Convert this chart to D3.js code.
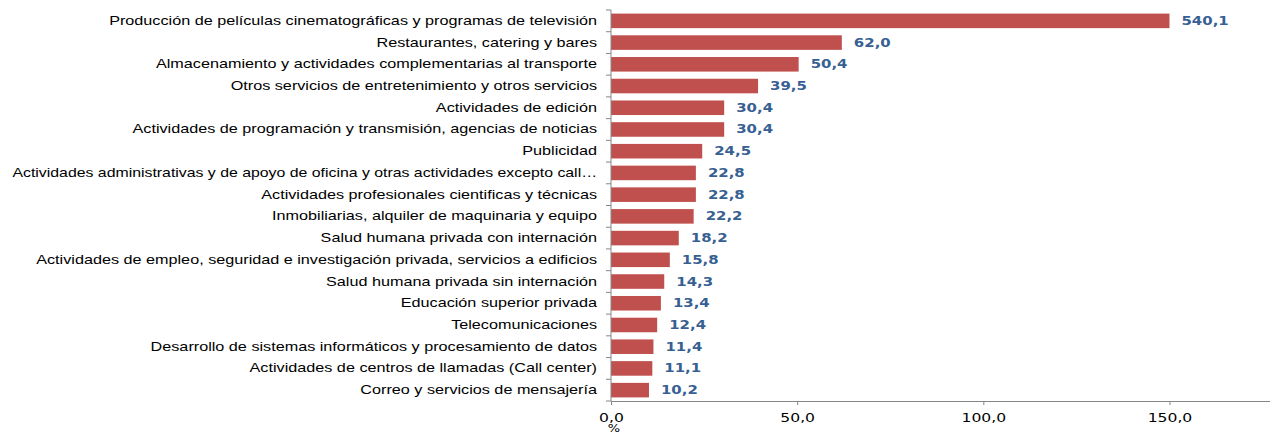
<!DOCTYPE html>
<html>
<head>
<meta charset="utf-8">
<script src="https://cdn.jsdelivr.net/npm/d3@7"></script>
<style>
  html, body { margin: 0; padding: 0; background: #fff; }
  svg { display: block; }
</style>
</head>
<body>
<svg id="chart" width="1270" height="437"></svg>
<script>
const categories = [
  "Producción de películas cinematográficas y programas de televisión",
  "Restaurantes, catering y bares",
  "Almacenamiento y actividades complementarias al transporte",
  "Otros servicios de entretenimiento y otros servicios",
  "Actividades de edición",
  "Actividades de programación y transmisión,  agencias de noticias",
  "Publicidad",
  "Actividades administrativas y de apoyo de oficina y otras actividades excepto call…",
  "Actividades profesionales cientificas y técnicas ",
  "Inmobiliarias, alquiler de maquinaria y equipo",
  "Salud humana privada con internación",
  "Actividades de empleo, seguridad e investigación privada, servicios a edificios",
  "Salud humana privada sin internación",
  "Educación superior privada",
  "Telecomunicaciones",
  "Desarrollo de sistemas informáticos y procesamiento de datos",
  "Actividades de centros de llamadas (Call center)",
  "Correo y servicios de mensajería"
];
const values = [540.1, 62.0, 50.4, 39.5, 30.4, 30.4, 24.5, 22.8, 22.8, 22.2, 18.2, 15.8, 14.3, 13.4, 12.4, 11.4, 11.1, 10.2];
const xTicks = [0, 50, 100, 150];
const xAxisTitle = "%";
const axisMax = 177;
const barCap = 150;

const fmt = v => v.toFixed(1).replace(".", ",");
const SX = 1.3;

const svg = d3.select("#chart");
const mLeft = 611, mRight = 1270, mTop = 10, mBottom = 401;

const x = d3.scaleLinear().domain([0, axisMax]).range([mLeft, mRight]);
const y = d3.scaleBand().domain(categories).range([mTop, mBottom]).paddingInner(0.33).paddingOuter(0.165);

// bars
svg.append("g").selectAll("rect").data(values).join("rect")
  .attr("x", x(0))
  .attr("y", (d, i) => y(categories[i]))
  .attr("width", d => x(Math.min(d, barCap)) - x(0))
  .attr("height", y.bandwidth())
  .attr("fill", "#C0504D");

// value labels
svg.append("g").selectAll("text").data(values).join("text")
  .attr("transform", (d, i) => `translate(${x(Math.min(d, barCap)) + 12},${y(categories[i]) + y.bandwidth() / 2 + 4}) scale(${SX},1)`)
  .attr("font-family", "DejaVu Sans")
  .attr("font-weight", "bold")
  .attr("font-size", 11.5)
  .attr("fill", "#376092")
  .text(d => fmt(d));

// y axis (labels)
const labelGap = 14, labelMaxW = 585, labelSX = 1.35;
const yAxis = svg.append("g").attr("transform", `translate(${mLeft},0)`)
  .call(d3.axisLeft(y).tickSize(0).tickPadding(0));
yAxis.select(".domain").remove();
yAxis.selectAll("text")
  .attr("x", null).attr("dy", null)
  .attr("font-family", "Liberation Sans")
  .attr("font-size", 12)
  .attr("fill", "#000")
  .attr("text-anchor", "end")
  .attr("transform", function () {
    const w = this.getComputedTextLength();
    const s = Math.min(labelSX, labelMaxW / w);
    return `translate(${-labelGap},4) scale(${s},1)`;
  });

// y axis line + boundary ticks
const step = y.step();
const boundaries = d3.range(categories.length + 1).map(i => mTop + i * step);
svg.append("line").attr("x1", mLeft).attr("x2", mLeft).attr("y1", mTop).attr("y2", mBottom)
  .attr("stroke", "#868686").attr("stroke-width", 1);
svg.append("g").selectAll("line").data(boundaries).join("line")
  .attr("x1", mLeft - 5).attr("x2", mLeft).attr("y1", d => d).attr("y2", d => d)
  .attr("stroke", "#868686");

// x axis
const xAxis = svg.append("g").attr("transform", `translate(0,${mBottom})`)
  .call(d3.axisBottom(x).tickValues(xTicks).tickSize(4).tickSizeOuter(0).tickFormat(fmt));
xAxis.select(".domain").attr("stroke", "#868686");
xAxis.selectAll(".tick line").attr("stroke", "#868686");
xAxis.selectAll("text")
  .attr("y", null).attr("dy", null)
  .attr("transform", `translate(0,21) scale(${SX},1)`)
  .attr("font-family", "DejaVu Sans")
  .attr("font-size", 12)
  .attr("fill", "#000");

// axis title
svg.append("text")
  .attr("transform", `translate(${x(0) + 3},432) scale(${SX},1)`)
  .attr("text-anchor", "middle")
  .attr("font-family", "DejaVu Sans")
  .attr("font-size", 10)
  .attr("fill", "#000")
  .text(xAxisTitle);
</script>
</body>
</html>
